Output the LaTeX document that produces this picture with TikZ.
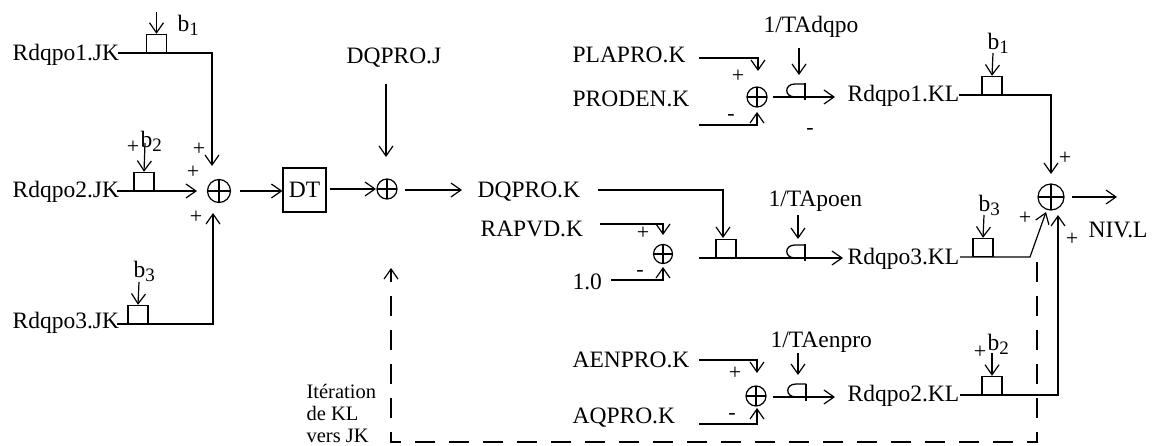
\documentclass[tikz,border=0pt]{standalone}
\usepackage{fontspec}
\setmainfont{Liberation Serif}
\usetikzlibrary{arrows.meta}
\newcommand\mysub[1]{\raisebox{-4pt}{\fontsize{19}{20}\selectfont #1}}
\begin{document}
\begin{tikzpicture}[x=1pt,y=-1pt,line width=1.2pt,
  >={Straight Barb[length=10pt,width=14pt]},
  lbl/.style={anchor=base west,inner sep=0pt,font=\fontsize{23.5}{26}\selectfont},
  sml/.style={anchor=base west,inner sep=0pt,font=\fontsize{20.5}{22}\selectfont},
  sgn/.style={inner sep=0pt,font=\fontsize{22}{22}\selectfont},
  sumnode/.style={circle,draw,inner sep=0pt,minimum size=#1,
    path picture={\draw[line width=1.1pt] (path picture bounding box.north) -- (path picture bounding box.south)
      (path picture bounding box.west) -- (path picture bounding box.east);}},
  bbox/.style={draw,inner sep=0pt,minimum width=20pt,minimum height=18pt,anchor=south},
  fb/.style={dashed,dash pattern=on 20pt off 14pt},
  pics/valve/.style={code={
    \draw[line width=1.3pt] (10,-13) -- (0,-13) .. controls (-11,-13) and (-11,0) .. (0,0);
    \draw[line width=2.6pt] (10,-13.5) -- (10,3.5);}}
]
\useasboundingbox (0,0) rectangle (1156,446);

% ---------- text labels ----------
\node[lbl] (r1jk) at (12,61) {Rdqpo1.JK};
\node[lbl] (r2jk) at (12,198) {Rdqpo2.JK};
\node[lbl] (r3jk) at (12,328) {Rdqpo3.JK};
\node[lbl] (dqj) at (346,64) {DQPRO.J};
\node[lbl] (dqk) at (477,198) {DQPRO.K};
\node[lbl] (plapro) at (572,63) {PLAPRO.K};
\node[lbl] (proden) at (572,107) {PRODEN.K};
\node[lbl] (tadqpo) at (763,33) {1/TAdqpo};
\node[lbl] (r1kl) at (847,102) {Rdqpo1.KL};
\node[lbl] (niv) at (1088,238) {NIV.L};
\node[lbl] (rapvd) at (480,237) {RAPVD.K};
\node[lbl] (one) at (572,290) {1.0};
\node[lbl] (tapoen) at (768,207) {1/TApoen};
\node[lbl] (r3kl) at (847,265) {Rdqpo3.KL};
\node[lbl] (aenpro) at (572,367) {AENPRO.K};
\node[lbl] (aqpro) at (572,423) {AQPRO.K};
\node[lbl] (taenpro) at (770,347) {1/TAenpro};
\node[lbl] (r2kl) at (847,401) {Rdqpo2.KL};
\node[sml] (it1) at (306,398) {Itération};
\node[sml] (it2) at (306,420) {de KL};
\node[sml] (it3) at (306,442) {vers JK};

% b labels
\node[lbl] (lb1) at (177,32) {b\mysub{1}};
\node[lbl] (lb2) at (140,148) {b\mysub{2}};
\node[lbl] (lb3) at (133,277) {b\mysub{3}};
\node[lbl] (rb1) at (987,50) {b\mysub{1}};
\node[lbl] (rb3) at (978,212) {b\mysub{3}};
\node[lbl] (rb2) at (987,350) {b\mysub{2}};

% signs
\node[sgn] (g1) at (199,149) {+};
\node[sgn] (g2) at (193,172) {+};
\node[sgn] (g3) at (196,217) {+};
\node[sgn] (g4) at (133,147) {+};
\node[sgn] (g5) at (738,76) {+};
\node[sgn] (g6) at (731,117) {-};
\node[sgn] (g7) at (810,131) {-};
\node[sgn] (g8) at (643,233) {+};
\node[sgn] (g9) at (640,273) {-};
\node[sgn] (g10) at (735,373) {+};
\node[sgn] (g11) at (732,416) {-};
\node[sgn] (g12) at (1065,158) {+};
\node[sgn] (g13) at (1025,218) {+};
\node[sgn] (g14) at (1072,239) {+};
\node[sgn] (g15) at (980,352) {+};

% ---------- blocks ----------
\node[sumnode=23pt] (S1) at (219,191) {};
\node[sumnode=20pt] (S2) at (387,189) {};
\node[sumnode=20pt] (S3) at (757,97) {};
\node[sumnode=26pt] (S4) at (1051,197) {};
\node[sumnode=19pt] (S5) at (663,254) {};
\node[sumnode=20pt] (S6) at (756,396) {};
\node[draw,minimum width=43pt,minimum height=44pt,inner sep=0pt,font=\fontsize{23.5}{26}\selectfont] (dt) at (304.5,190) {DT};

\node[bbox] (B1) at (156.5,53) {};
\node[bbox] (B2) at (144,191) {};
\node[bbox] (B3) at (138,324) {};
\node[bbox] (B4) at (726,258) {};
\node[bbox] (B5) at (992,95) {};
\node[bbox] (B6) at (983,257) {};
\node[bbox] (B7) at (992,395) {};

\pic at (795,97) {valve};
\pic at (795,258) {valve};
\pic at (796,397) {valve};

% ---------- connectors ----------
% left column
\draw[->] (156.5,12) -- (B1.north);
\draw[->] (118,53) -- (212,53) -- (212,166);
\draw[->] (145,143) -- (B2.north);
\draw[->] (117,191) -- (197,191);
\draw[->] (139,282) -- (B3.north);
\draw[->] (117,324) -- (213,324) -- (213,213);
\draw[->] (240,191) -- (dt.west |- 0,191);
\draw[->] (dt.east |- 0,189) ++(3,0) -- (376,189);
\draw[->] (386,84) -- (386,157);
\draw[->] (405,190) -- (462,190);

% top row
\draw[->] (699,58) -- (758,58) -- (758,71);
\draw[->] (699,125) -- (757,125) -- (757,112);
\draw[->] (773,97) -- (835,97);
\draw[->] (799,48) -- (799,75);
\draw[->] (993,53) -- (B5.north);
\draw[->] (959,95) -- (1051,95) -- (1051,174);
\draw[->] (1072,197) -- (1117,197);

% middle row
\draw[->] (598,190) -- (723,190) -- (723,238);
\draw[->] (600,224) -- (663,224) -- (663,235);
\draw[->] (611,280) -- (663,280) -- (663,267);
\draw[->] (699,258) -- (843,258);
\draw[->] (798,215) -- (798,239);
\draw[->] (984,215) -- (B6.north);
\draw[->] (960,257) -- (1030,257) -- (1046,212);

% bottom row
\draw[->] (699,360) -- (757,360) -- (757,373);
\draw[->] (699,424) -- (757,424) -- (757,408);
\draw[->] (773,397) -- (835,397);
\draw[->] (798,353) -- (798,375);
\draw[->] (992,353) -- (B7.north);
\draw[->] (960,395) -- (1058,395) -- (1058,215);

% feedback (dashed)
\draw[->,fb] (1037,262) -- (1037,442) -- (391,442) -- (391,268);
\end{tikzpicture}
\end{document}
